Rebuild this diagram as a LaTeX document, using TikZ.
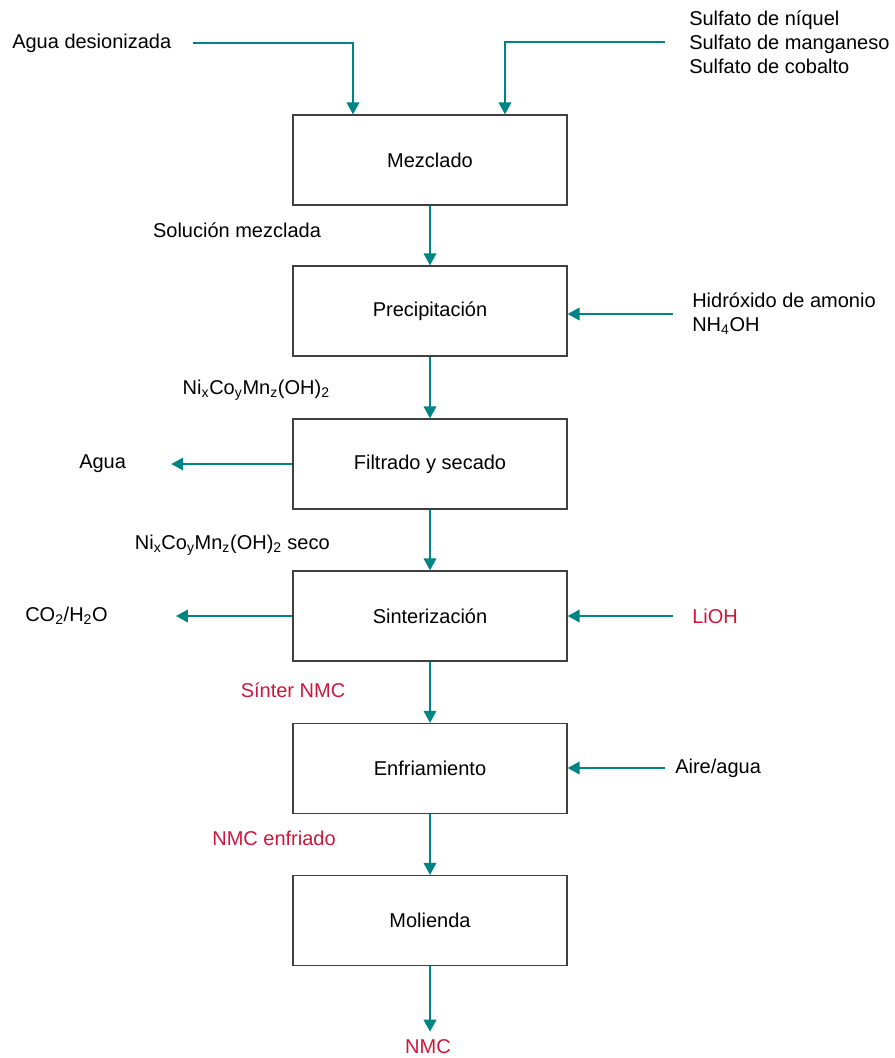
\documentclass[tikz,border=0pt]{standalone}
\usepackage{fontspec}
\setmainfont{Liberation Sans}
\usetikzlibrary{arrows.meta,calc}

\definecolor{flujo}{RGB}{0,133,133}
\definecolor{rojo}{RGB}{206,22,60}
\tikzset{
  etapa/.style={draw=black!75,line width=1pt,minimum width=205.5pt,minimum height=67.5pt,inner sep=0pt},
  flecha/.style={draw=flujo,line width=1.3pt,-{Triangle[length=9pt,width=9.5pt]}},
  texto/.style={inner sep=0pt,align=left},
}

\begin{document}
\begin{tikzpicture}[x=0.75pt,y=-0.75pt,font=\fontsize{15}{18}\selectfont]
        \path[use as bounding box] (0,0) rectangle (894,1058);

        % etapas del proceso
        \node [etapa] (mezclado) at (430,160) {Mezclado};
        \node [etapa] (precipitacion) at (430,311) {Precipitación};
        \node [etapa] (filtrado) at (430,464) {Filtrado y secado};
        \node [etapa] (sinterizacion) at (430,616) {Sinterización};
        \node [etapa] (enfriamiento) at (430,768.5) {Enfriamiento};
        \node [etapa] (molienda) at (430,920.5) {Molienda};

        % entradas y salidas
        \node [texto,anchor=west] (aguades) at (12,43) {Agua desionizada};
        \node [texto,anchor=west] (sulfatos) at (689,42) {Sulfato de níquel\\Sulfato de manganeso\\Sulfato de cobalto};
        \node [texto,anchor=west] (hidroxido) at (692,314) {Hidróxido de amonio\\NH\textsubscript{4}OH};
        \node [texto,anchor=west] (agua) at (79,464) {Agua};
        \node [texto,anchor=west] (gases) at (25,616) {CO\textsubscript{2}/H\textsubscript{2}O};
        \node [texto,anchor=west,text=rojo] (lioh) at (692,616) {LiOH};
        \node [texto,anchor=west] (aire) at (675,768) {Aire/agua};
        \node [texto,text=rojo] (nmc) at (428,1047) {NMC};

        % corrientes intermedias
        \node [texto] (solucion) at (237,230) {Solución mezclada};
        \node [texto,anchor=east] (hidrox) at (330,390) {Ni\textsubscript{x}Co\textsubscript{y}Mn\textsubscript{z}(OH)\textsubscript{2}};
        \node [texto,anchor=east] (seco) at (330,545) {Ni\textsubscript{x}Co\textsubscript{y}Mn\textsubscript{z}(OH)\textsubscript{2} seco};
        \node [texto,text=rojo] (sinter) at (293,690) {Sínter NMC};
        \node [texto,text=rojo] (enfriado) at (274,838) {NMC enfriado};

        \draw[flecha, shorten <=16pt] (aguades.east) -| ($(mezclado.north)+(-77,0)$);
        \draw[flecha, shorten <=18pt] (sulfatos.west) -| ($(mezclado.north)+(75,0)$);
        \draw[flecha] (mezclado) -- (precipitacion);
        \draw[flecha, shorten <=14pt] (hidroxido.west) -- (hidroxido.west -| precipitacion.east);
        \draw[flecha] (precipitacion) -- (filtrado);
        \draw[flecha, shorten >=33.75pt] (filtrado.west) -- (agua.east);
        \draw[flecha] (filtrado) -- (sinterizacion);
        \draw[flecha, shorten >=51pt] (sinterizacion.west) -- (gases.east);
        \draw[flecha, shorten <=14pt] (lioh.west) -- (sinterizacion.east);
        \draw[flecha] (sinterizacion) -- (enfriamiento);
        \draw[flecha, shorten <=7.5pt] (aire.west) -- (aire.west -| enfriamiento.east);
        \draw[flecha] (enfriamiento) -- (molienda);
        \draw[flecha, shorten >=6pt] (molienda.south) -- (molienda.south |- nmc.north);
      \end{tikzpicture}
\end{document}
